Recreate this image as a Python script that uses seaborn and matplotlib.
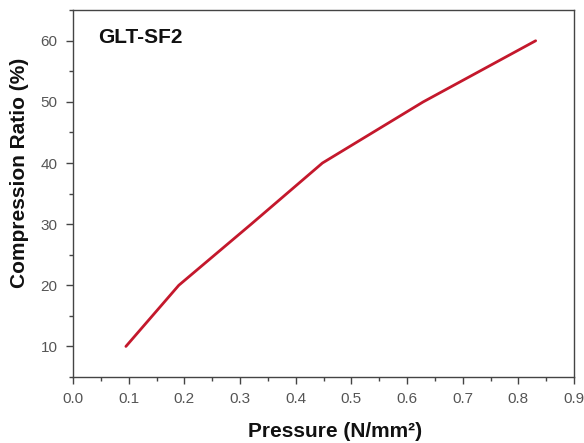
import matplotlib
matplotlib.use("Agg")
import matplotlib.pyplot as plt
import seaborn as sns
import pandas as pd
from matplotlib.ticker import MultipleLocator, FormatStrFormatter

pressure = [0.095, 0.19, 0.32, 0.448, 0.629, 0.831]
compression = [10, 20, 30, 40, 50, 60]

df = pd.DataFrame({"Pressure": pressure, "Compression": compression})

sns.set_theme(style="ticks")
plt.rcParams['font.family'] = ['Liberation Sans', 'DejaVu Sans']

fig = plt.figure(figsize=(5.84, 4.43), dpi=100)
ax = fig.add_axes([0.125, 0.149, 0.858, 0.828])

sns.lineplot(data=df, x="Pressure", y="Compression", ax=ax, color="#c4182c",
             linewidth=2.0, sort=False)

ax.set_xlim(0, 0.9)
ax.set_ylim(5, 65)
ax.xaxis.set_major_locator(MultipleLocator(0.1))
ax.xaxis.set_minor_locator(MultipleLocator(0.05))
ax.xaxis.set_major_formatter(FormatStrFormatter("%.1f"))
ax.yaxis.set_major_locator(MultipleLocator(10))
ax.yaxis.set_minor_locator(MultipleLocator(5))
ax.set_yticks([10, 20, 30, 40, 50, 60])

for s in ax.spines.values():
    s.set_color("#444444")
    s.set_linewidth(1.0)

ax.tick_params(axis="both", which="major", direction="out", length=5, width=1,
               color="#444444", labelsize=11, labelcolor="#555555", pad=6)
ax.tick_params(axis="both", which="minor", direction="out", length=3, width=1,
               color="#444444")

ax.set_xlabel("Pressure (N/mm²)", fontsize=15, fontweight="bold", color="#111111")
ax.set_ylabel("Compression Ratio (%)", fontsize=15, fontweight="bold", color="#111111")
ax.xaxis.set_label_coords(0.523, -0.122)
ax.yaxis.set_label_coords(-0.087, 0.556)

ax.text(0.05, 0.926, "GLT-SF2", transform=ax.transAxes, fontsize=15,
        fontweight="bold", color="#111111", va="center", ha="left")

fig.savefig("out.png", dpi=100)
